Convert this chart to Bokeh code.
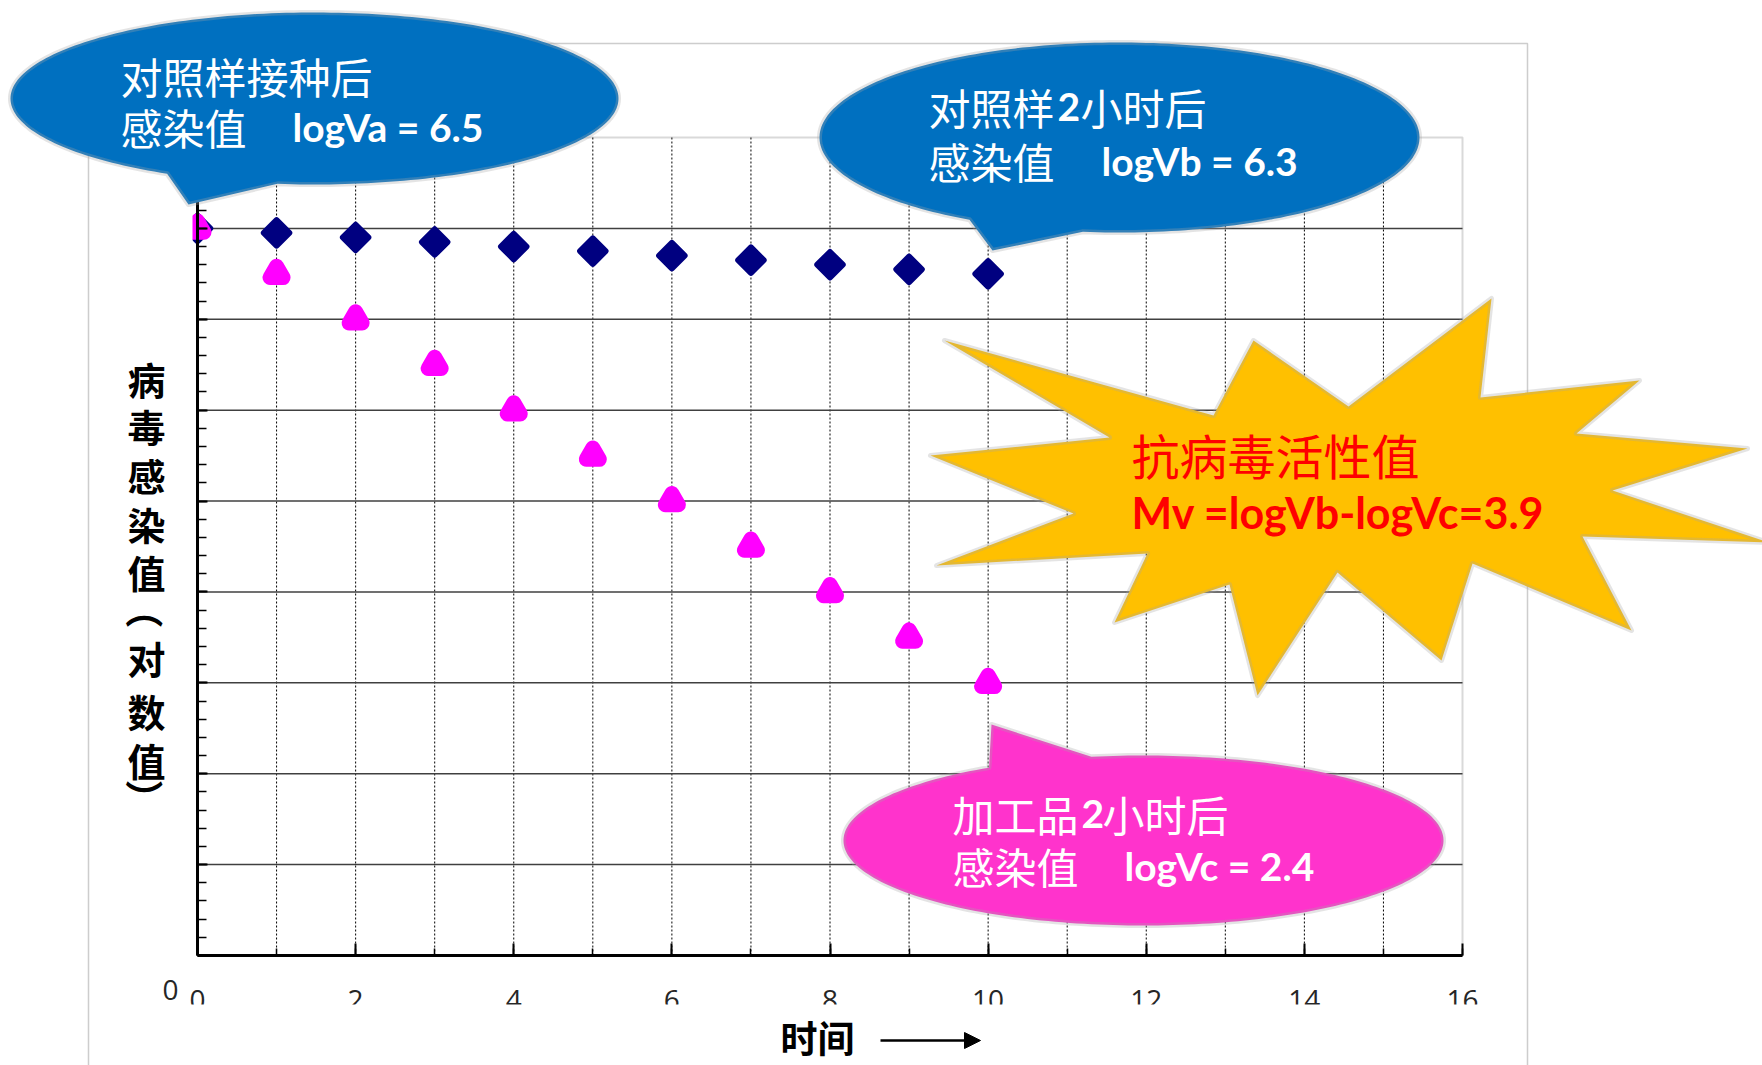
import numpy as np
from bokeh.plotting import figure
from bokeh.models import (Range1d, SingleIntervalTicker, Label, PolyAnnotation, LinearAxis,
                          BoxAnnotation, Arrow, NormalHead)
from bokeh.embed import file_html
from bokeh.resources import INLINE

# ---------------- data ----------------
time_h = [0, 1, 2, 3, 4, 5, 6, 7, 8, 9, 10]
control_log = [8.0, 7.95, 7.9, 7.85, 7.8, 7.75, 7.7, 7.65, 7.6, 7.55, 7.5]
treated_log = [8.0, 7.5, 7.0, 6.5, 6.0, 5.5, 5.0, 4.5, 4.0, 3.5, 3.0]
x_min, x_max = 0, 16
y_min, y_max = 0, 9
x_grid = list(range(1, 16))
y_grid = list(range(1, 9))

bubble_a_lines = ["对照样接种后", "感染值", "logVa = 6.5"]
bubble_b_lines = ["对照样", "2", "小时后", "感染值", "logVb = 6.3"]
bubble_c_lines = ["加工品", "2", "小时后", "感染值", "logVc = 2.4"]
burst_lines = ["抗病毒活性值", "Mv =logVb-logVc=3.9"]
y_title_chars = ["病", "毒", "感", "染", "值", "（", "对", "数", "值", "）"]
x_title = "时间"

# ---------------- layout: the frame is the whole page ----------------
W, H = 1762, 1065
FL, FR, FT, FB = 197, 1462, 137, 955   # pixel box of the value area


def dx(px):
    return x_min + (px - FL) / (FR - FL) * (x_max - x_min)


def dy(py):
    return y_min + (FB - py) / (FB - FT) * (y_max - y_min)


p = figure(width=W, height=H, x_range=Range1d(dx(0), dx(W)), y_range=Range1d(dy(H), dy(0)),
           output_backend="svg", toolbar_location=None, title=None,
           x_axis_type=None, y_axis_type=None,
           min_border_left=0, min_border_right=0, min_border_top=0, min_border_bottom=0)
p.background_fill_color = "white"
p.border_fill_color = "white"
p.outline_line_color = None

# outer chart frame
p.add_layout(BoxAnnotation(left=dx(88), right=dx(1527), top=dy(43), bottom=dy(1120),
                           fill_alpha=0, line_color="#595959", line_width=1.5, level="underlay"))
# value-area border
p.add_layout(BoxAnnotation(left=x_min, right=x_max, top=y_max, bottom=y_min,
                           fill_alpha=0, line_color="#808080", line_width=2, level="underlay"))

# grid lines
p.segment(x0=x_grid, y0=[y_min] * len(x_grid), x1=x_grid, y1=[y_max] * len(x_grid),
          line_color="black", line_width=1, line_dash="2 2")
p.segment(x0=[x_min] * len(y_grid), y0=y_grid, x1=[x_max] * len(y_grid), y1=y_grid,
          line_color="#404040", line_width=1.5)

# axes fixed at the value area's edges
xaxis = LinearAxis(fixed_location=y_min, bounds=(x_min, x_max),
                   ticker=SingleIntervalTicker(interval=2, num_minor_ticks=2))
xaxis.axis_line_width = 3
xaxis.axis_line_color = "black"
xaxis.major_tick_in = 12
xaxis.major_tick_out = 0
xaxis.minor_tick_in = 7
xaxis.minor_tick_out = 0
xaxis.major_tick_line_width = 2
xaxis.minor_tick_line_width = 1.5
xaxis.major_tick_line_color = "black"
xaxis.minor_tick_line_color = "black"
xaxis.major_label_text_font = "Open Sans"
xaxis.major_label_text_font_size = "28px"
xaxis.major_label_text_color = "#262626"
xaxis.major_label_standoff = 34
p.add_layout(xaxis, "below")

yaxis = LinearAxis(fixed_location=x_min, bounds=(y_min, y_max),
                   ticker=SingleIntervalTicker(interval=1, num_minor_ticks=5))
yaxis.axis_line_width = 3
yaxis.axis_line_color = "black"
yaxis.major_tick_in = 10
yaxis.major_tick_out = 0
yaxis.minor_tick_in = 9
yaxis.minor_tick_out = 0
yaxis.major_tick_line_width = 2
yaxis.minor_tick_line_width = 1.5
yaxis.major_tick_line_color = "black"
yaxis.minor_tick_line_color = "black"
yaxis.major_label_overrides = {i: "" for i in range(0, 10)}
p.add_layout(yaxis, "left")

# data markers
p.scatter(time_h, control_log, marker="square", angle=np.pi / 4, size=18,
          fill_color="#000080", line_color="#000080", line_width=6, line_join="round")
p.scatter(time_h, treated_log, marker="triangle", size=13,
          fill_color="#FF00FF", line_color="#FF00FF", line_width=15, line_join="round")

# markers are cut at the left edge of the value area in the original
p.add_layout(BoxAnnotation(left=dx(160), right=dx(192), top=dy(185), bottom=dy(250),
                           fill_color="white", fill_alpha=1, line_alpha=0, level="glyph"))


def callout(cx, cy, a, b, t_lo, t_hi, tip, fill):
    ts = np.radians(np.linspace(t_hi, t_lo + 360, 240))
    px = list(cx + a * np.cos(ts)) + [tip[0]]
    py = list(cy + b * np.sin(ts)) + [tip[1]]
    p.add_layout(PolyAnnotation(xs=[dx(v) for v in px], ys=[dy(v) for v in py],
                                fill_color=fill, fill_alpha=1, line_color="#A6A6A6",
                                line_width=5, line_join="round"))


callout(314, 98, 304, 86, 97, 119, (188, 204), "#0070C0")
callout(1119, 137, 300, 95, 97, 120, (992, 250), "#0070C0")
callout(1143, 840, 300, 85, 239, 260, (991, 724), "#FF33CC")

burst_px = [(944, 340), (1213, 415), (1253, 340), (1348, 406), (1491, 298), (1480, 397),
            (1639, 380), (1576, 433), (1747, 448), (1612, 490), (1768, 542), (1582, 536),
            (1631, 630), (1472, 563), (1441, 660), (1337, 572), (1257, 695), (1229, 584),
            (1114, 622), (1147, 553), (936, 565), (1073, 513), (930, 455), (1109, 437)]
p.add_layout(PolyAnnotation(xs=[dx(a) for a, b in burst_px], ys=[dy(b) for a, b in burst_px],
                            fill_color="#FFC000", fill_alpha=1, line_color="#A6A6A6",
                            line_width=5, line_join="round"))


def lab(text, px, py, size, color="white", font="Noto Sans CJK SC", style="normal",
        align="left", baseline="middle", angle=0.0, level="annotation"):
    p.add_layout(Label(x=dx(px), y=dy(py), text=text, text_font=font,
                       text_font_size=f"{size}px", text_color=color, text_font_style=style,
                       text_align=align, text_baseline=baseline, angle=angle, level=level))


LAT = "Lato"
# bubble A
lab(bubble_a_lines[0], 120, 75, 42)
lab(bubble_a_lines[1], 120, 126, 42)
lab(bubble_a_lines[2], 292, 126, 39, font=LAT, style="bold")
# bubble B
lab(bubble_b_lines[0], 928, 106, 42)
lab(bubble_b_lines[1], 1057, 106, 39, font=LAT, style="bold")
lab(bubble_b_lines[2], 1080, 106, 42)
lab(bubble_b_lines[3], 928, 160, 42)
lab(bubble_b_lines[4], 1101, 160, 39, font=LAT, style="bold")
# bubble C
lab(bubble_c_lines[0], 952, 813, 42)
lab(bubble_c_lines[1], 1081, 813, 39, font=LAT, style="bold")
lab(bubble_c_lines[2], 1102, 813, 42)
lab(bubble_c_lines[3], 952, 865, 42)
lab(bubble_c_lines[4], 1124, 865, 39, font=LAT, style="bold")
# starburst
lab(burst_lines[0], 1131, 453, 48, color="#FF0000")
lab(burst_lines[1], 1131, 512, 43, color="#FF0000", font=LAT, style="bold")

# value-axis title (stacked characters)
y_title_pos = [378, 425, 474, 523, 571, 609, 657, 710, 759, 798]
for ch, yy in zip(y_title_chars, y_title_pos):
    ang = -np.pi / 2 if ch in "（）" else 0.0
    lab(ch, 146, yy, 38, color="black", style="bold", align="center", angle=ang)

# lone "0" of the value axis
lab("0", 170, 989, 28, color="#262626", font="Open Sans", align="center")

# time-axis title with arrow
lab(x_title, 817, 1036, 37, color="black", style="bold", align="center")
p.add_layout(Arrow(x_start=dx(880), y_start=dy(1040), x_end=dx(980), y_end=dy(1040),
                   line_width=2.5, line_color="black",
                   end=NormalHead(size=16, fill_color="black", line_color="black")))

# the tick numbers are cut off at their lower part in the original
p.add_layout(BoxAnnotation(left=dx(185), right=dx(1500), top=dy(1004), bottom=dy(1016),
                           fill_color="white", fill_alpha=1, line_alpha=0, level="overlay"))

open("out.html", "w").write(file_html(p, INLINE))
